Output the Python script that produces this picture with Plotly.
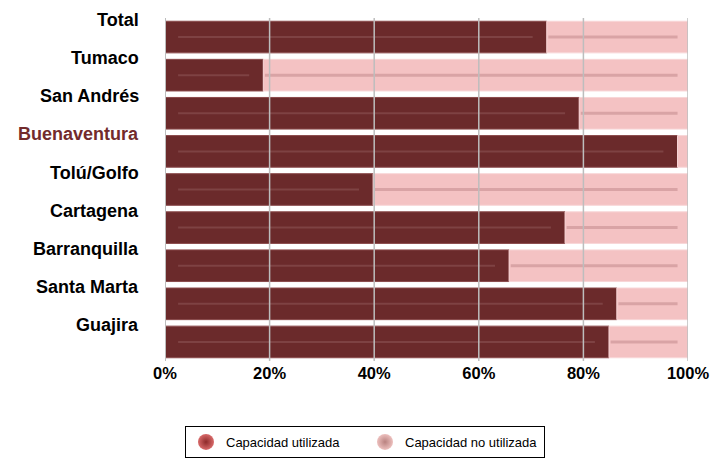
import plotly.graph_objects as go

# ---- data ----
categories = ["Total", "Tumaco", "San Andrés", "Buenaventura", "Tolú/Golfo",
              "Cartagena", "Barranquilla", "Santa Marta", "Guajira"]
utilizada = [73.0, 18.8, 79.2, 98.0, 39.8, 76.5, 65.8, 86.4, 84.9]
no_utilizada = [27.0, 81.2, 20.8, 2.0, 60.2, 23.5, 34.2, 13.6, 15.1]
tick_vals = [0, 20, 40, 60, 80, 100]
tick_text = ["0%", "20%", "40%", "60%", "80%", "100%"]
legend_names = ["Capacidad utilizada", "Capacidad no utilizada"]

DARK = "#6B2A2B"
PINK = "#F4C2C3"
FONT = "Liberation Sans, Arial, sans-serif"

n = len(categories)
ypos = [n - 1 - i for i in range(n)]  # Total at top

fig = go.Figure()

fig.add_trace(go.Bar(
    y=ypos, x=utilizada, orientation="h", base=0,
    marker=dict(color=DARK, line=dict(color="#8A4A4B", width=1)),
    showlegend=False, hoverinfo="x"))
fig.add_trace(go.Bar(
    y=ypos, x=no_utilizada, orientation="h", base=utilizada,
    marker=dict(color=PINK, line=dict(color="#F8D6D7", width=1)),
    showlegend=False, hoverinfo="x"))

# subtle cylinder highlight lines inside bars
for yp, u in zip(ypos, utilizada):
    fig.add_trace(go.Scatter(
        x=[2.5, max(u - 2.7, 2.6)], y=[yp, yp], mode="lines",
        line=dict(color="#7E4243", width=2), showlegend=False, hoverinfo="skip"))
    if u < 97.5:
        fig.add_trace(go.Scatter(
            x=[u + 0.3, 98], y=[yp, yp], mode="lines",
            line=dict(color="#D9A3A5", width=3), showlegend=False, hoverinfo="skip"))

# legend entries (sphere-like markers)
fig.add_trace(go.Scatter(
    x=[None], y=[None], mode="markers", name=legend_names[0],
    marker=dict(size=19, color="#D86A6A", symbol="circle",
                gradient=dict(type="radial", color="#8E2A2A"),
                line=dict(width=0))))
fig.add_trace(go.Scatter(
    x=[None], y=[None], mode="markers", name=legend_names[1],
    marker=dict(size=19, color="#EDC0BE", symbol="circle",
                gradient=dict(type="radial", color="#B98280"),
                line=dict(width=0))))

# gridlines drawn above bars
for tv in tick_vals:
    fig.add_shape(type="line", xref="x", yref="paper", x0=tv, x1=tv, y0=0, y1=1,
                  line=dict(color="#BDBDBD", width=2 if tv == 0 else 1.5),
                  layer="above")

# category labels
for yp, cat in zip(ypos, categories):
    fig.add_annotation(
        x=-0.045, xref="paper", y=yp, yref="y", yshift=17,
        text=cat, showarrow=False, xanchor="right", yanchor="middle",
        font=dict(family=FONT, size=18, weight="bold",
                  color="#722B2C" if cat == "Buenaventura" else "#000000"))

fig.update_layout(
    width=714, height=462,
    margin=dict(l=165, r=26, t=18, b=101, autoexpand=False),
    paper_bgcolor="white", plot_bgcolor="white",
    barmode="overlay", bargap=0.17,
    font=dict(family=FONT),
    xaxis=dict(range=[0, 100], tickvals=tick_vals, ticktext=tick_text,
               showgrid=False, zeroline=False, showline=False, ticks="",
               automargin=False,
               tickfont=dict(family=FONT, size=16.5, color="black", weight="bold"),
               fixedrange=True),
    yaxis=dict(range=[-0.5, n - 0.5], showticklabels=False, showgrid=False,
               zeroline=False, showline=False, ticks="", fixedrange=True,
               automargin=False),
    legend=dict(orientation="h", xref="container", yref="container",
                x=185 / 714, y=1 - 426 / 462, xanchor="left", yanchor="top",
                bordercolor="#000000", borderwidth=1, bgcolor="white",
                entrywidth=134, entrywidthmode="pixels",
                font=dict(family=FONT, size=13, color="black")),
)

fig.write_html("out.html")
